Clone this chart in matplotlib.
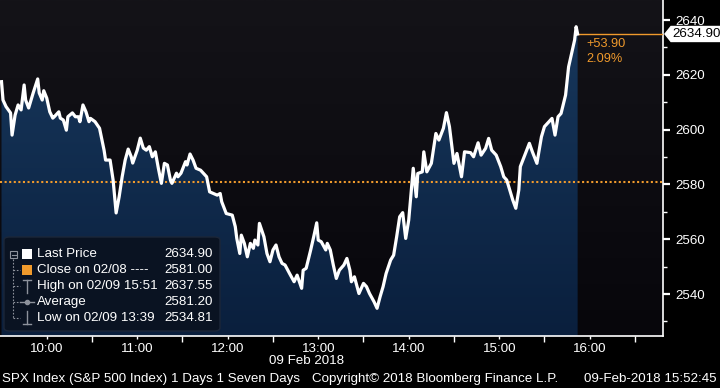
import numpy as np
import matplotlib
matplotlib.use('Agg')
import matplotlib.pyplot as plt
from matplotlib.patches import Polygon, FancyBboxPatch, Rectangle
from matplotlib.lines import Line2D
from matplotlib.colors import LinearSegmentedColormap

# SPX intraday, minutes after 09:30 on 09 Feb 2018
minutes = [0, 1, 3, 6, 7, 9, 11, 13, 15, 16, 18, 21, 24, 25, 27, 28, 30, 32, 34, 35,
           38, 39, 41, 43, 44, 47, 49, 51, 52, 54, 56, 58, 59, 62, 65, 68, 69, 72, 74, 76,
           78, 80, 82, 84, 86, 87, 90, 92, 94, 96, 98, 100, 102, 104, 106, 108, 110, 112, 113, 116,
           117, 119, 122, 123, 125, 127, 129,
           132, 136, 138, 143, 145, 146, 149, 153, 155, 156, 158, 159, 161, 163, 165, 167, 168, 170,
           171, 174, 176, 178, 180, 182, 184, 186, 188, 191, 194, 196, 199, 200, 202, 205, 207, 209,
           210, 212, 215, 216, 218, 220, 222, 224, 227, 229, 231, 232, 234, 237, 240, 242, 244, 247,
           249, 251, 253, 255, 258, 260,
           262, 264, 266, 268, 270, 273, 275, 276, 279, 280, 282, 285, 288, 290, 293, 295, 297, 300,
           302, 305, 307, 311, 313, 316, 318, 321, 323, 325, 328, 331, 333, 335, 337, 339, 341, 343,
           344, 347, 350, 352, 355, 358, 360, 363, 365, 367, 369, 371, 374, 376, 379, 380, 381, 382]
prices = [2617.5, 2610.8, 2608.4, 2606.1, 2598.0, 2605.3, 2609.0, 2607.2, 2616.3, 2610.8,
          2607.9, 2613.4, 2618.5, 2613.4, 2610.8, 2614.2, 2611.5, 2606.5, 2604.2, 2604.7,
          2606.5, 2604.2, 2603.5, 2599.8, 2604.7, 2606.1, 2604.7, 2604.7, 2602.9, 2609.0,
          2606.5, 2602.9, 2604.1, 2602.9, 2600.5, 2592.5, 2588.9, 2588.9, 2581.6, 2569.6,
          2575.5, 2582.8, 2588.9, 2592.9, 2590.1, 2587.8, 2592.5, 2596.9, 2593.3, 2592.5,
          2593.8, 2590.1, 2591.9, 2585.9, 2580.4, 2587.7, 2587.1, 2581.6, 2580.4, 2584.1,
          2582.8, 2584.1, 2588.3, 2587.1, 2591.1, 2588.9, 2585.9,
          2585.2, 2582.8, 2577.3, 2576.1, 2576.7, 2573.7, 2569.4, 2568.8, 2564.6, 2560.3,
          2554.8, 2561.5, 2558.5, 2553.6, 2558.5, 2556.7, 2559.7, 2557.9, 2565.8, 2560.9,
          2554.8, 2551.8, 2556.1, 2557.9, 2553.6, 2551.2, 2550.6, 2547.5, 2544.5, 2546.9,
          2542.1, 2548.7, 2549.4, 2556.1, 2560.9, 2566.0, 2559.7, 2559.1, 2556.1, 2558.5,
          2556.1, 2550.6, 2545.7, 2548.7, 2550.6, 2553.0, 2548.7, 2544.5, 2546.3, 2540.2,
          2543.9, 2542.7, 2540.2, 2537.2, 2534.81, 2539.0, 2542.7, 2547.5, 2552.4, 2554.2,
          2560.9, 2568.2, 2569.7, 2560.3, 2567.0, 2585.9, 2575.5, 2584.0, 2584.6, 2591.9,
          2584.6, 2587.7, 2598.6, 2596.2, 2600.5, 2606.2, 2601.1, 2587.7, 2591.3, 2582.8,
          2591.9, 2591.6, 2590.1, 2595.2, 2590.7, 2593.2, 2596.8, 2592.5, 2590.7, 2586.5,
          2582.8, 2581.6, 2578.0, 2574.3, 2571.3, 2578.0,
          2586.5, 2590.7, 2595.0, 2591.9, 2587.7, 2597.4, 2601.1, 2602.9, 2604.1, 2598.0,
          2604.7, 2605.9, 2612.6, 2622.9, 2630.3, 2632.7, 2637.55, 2634.90]

prev_close = 2581.00
last_price = 2634.90
change_txt = ['+53.90', '2.09%']

hour_ticks = [30, 90, 150, 210, 270, 330, 390]
hour_labels = ['10:00', '11:00', '12:00', '13:00', '14:00', '15:00', '16:00']
half_ticks = [60, 120, 180, 240, 300, 360, 420]
y_major = [2540, 2560, 2580, 2600, 2620, 2640]
y_minor = [2530, 2550, 2570, 2590, 2610, 2630]

leg_names = ['Last Price', 'Close on 02/08 ----', 'High on 02/09 15:51', 'Average', 'Low on 02/09 13:39']
leg_values = ['2634.90', '2581.00', '2637.55', '2581.20', '2534.81']

ORANGE = '#f09a2c'
FONT = 'Liberation Sans'
FS = 9.2
W, H = 720, 388

def fx(px):
    return px / W

def fy(py):
    return 1 - py / H

fig = plt.figure(figsize=(7.2, 3.88), dpi=100, facecolor='black')
ax = fig.add_axes([0, fy(336), fx(663), 336 / H])
ax.set_facecolor('#0e0d12')

xmin, xmax = -1.0, 438.6
ymin, ymax = 2524.7, 2647.3

# background gradient
bg_cmap = LinearSegmentedColormap.from_list('bg', ['#07060b', '#141318'])
grad = np.linspace(0, 1, 256).reshape(-1, 1)
ax.imshow(grad, cmap=bg_cmap, aspect='auto', extent=[xmin, xmax, ymin, ymax],
          origin='lower', zorder=0)

# area fill with gradient
fill_cmap = LinearSegmentedColormap.from_list('fill', ['#0a1f3d', '#18395e'])
im = ax.imshow(grad, cmap=fill_cmap, aspect='auto', extent=[xmin, xmax, ymin, ymax],
               origin='lower', zorder=1)
poly = ax.fill_between(minutes, prices, ymin, facecolor='none', edgecolor='none')
im.set_clip_path(poly.get_paths()[0], transform=ax.transData)

ax.axhline(prev_close, color=ORANGE, lw=1.5, ls=(0, (1, 1.2)), zorder=3)
ax.plot(minutes, prices, color='white', lw=2.3, zorder=4, solid_joinstyle='round')
ax.plot([minutes[-1], xmax], [last_price, last_price], color=ORANGE, lw=1.0, zorder=3)

for i, t in enumerate(change_txt):
    ax.annotate(t, xy=(minutes[-1], last_price), xytext=(9, -10 - 15 * i),
                textcoords='offset pixels', color=ORANGE, fontsize=FS, family=FONT,
                va='center', ha='left', zorder=5)

ax.set_xlim(xmin, xmax)
ax.set_ylim(ymin, ymax)

for s in ['left', 'top']:
    ax.spines[s].set_visible(False)
for s in ['bottom', 'right']:
    ax.spines[s].set_color('white')
    ax.spines[s].set_linewidth(1.2)

ax.yaxis.tick_right()
ax.set_yticks(y_major)
ax.set_yticks(y_minor, minor=True)
ax.set_xticks(hour_ticks)
ax.set_xticklabels(hour_labels)
ax.set_xticks(half_ticks, minor=True)
ax.tick_params(axis='y', which='major', colors='white', length=5, width=1.6, pad=4,
               labelsize=FS + 0.4)
ax.tick_params(axis='y', which='minor', colors='white', length=3, width=1.0)
ax.tick_params(axis='x', which='major', colors='white', length=2, width=1.0, pad=3,
               labelsize=FS + 0.4)
ax.tick_params(axis='x', which='minor', colors='white', length=4, width=1.0)
for lab in ax.get_xticklabels() + ax.get_yticklabels():
    lab.set_family(FONT)

# last price tag on the right axis
yl = fig.transFigure.inverted().transform(ax.transData.transform((0, last_price)))[1]
hh = 7.5 / H
tag = Polygon([(fx(665), yl), (fx(671), yl + hh), (fx(720), yl + hh), (fx(720), yl - hh),
               (fx(671), yl - hh)], closed=True, transform=fig.transFigure,
              facecolor='white', edgecolor='white', zorder=10)
fig.patches.append(tag)
fig.text(fx(672), yl, '%.2f' % last_price, color='black', fontsize=FS + 0.4, family=FONT,
         va='center', ha='left', zorder=11)

# legend box
box = FancyBboxPatch((fx(4), fy(331)), fx(216), 94 / H,
                     boxstyle='round,pad=0,rounding_size=0.008', transform=fig.transFigure,
                     facecolor='#0a1322', edgecolor='#1c2638', lw=1.0, zorder=10)
fig.patches.append(box)
row_y = [254, 270, 286, 302, 318]
grey = '#8d929c'
for i, (nm, val) in enumerate(zip(leg_names, leg_values)):
    yy = fy(row_y[i])
    fig.text(fx(37), yy, nm, color='white', fontsize=FS + 0.4, family=FONT,
             va='center', ha='left', zorder=12)
    fig.text(fx(213), yy, val, color='white', fontsize=FS + 0.4, family=FONT,
             va='center', ha='right', zorder=12)
    if i > 0:
        fig.add_artist(Line2D([fx(13), fx(20)], [yy, yy], color=grey, lw=0.8,
                              ls=(0, (1.5, 1.5)), transform=fig.transFigure, zorder=12))
# tree
fig.add_artist(Line2D([fx(13), fx(13)], [fy(259), fy(318)], color=grey, lw=0.8,
                      ls=(0, (1.5, 1.5)), transform=fig.transFigure, zorder=12))
fig.patches.append(Rectangle((fx(10), fy(258)), fx(7), 7 / H, transform=fig.transFigure,
                             facecolor='none', edgecolor=grey, lw=0.8, zorder=12))
fig.add_artist(Line2D([fx(11.5), fx(15.5)], [fy(254.5), fy(254.5)], color=grey, lw=0.8,
                      transform=fig.transFigure, zorder=12))
# icons
fig.patches.append(Rectangle((fx(22), fy(259)), fx(10), 10 / H, transform=fig.transFigure,
                             facecolor='white', edgecolor='none', zorder=12))
fig.patches.append(Rectangle((fx(22), fy(275)), fx(10), 10 / H, transform=fig.transFigure,
                             facecolor=ORANGE, edgecolor='none', zorder=12))
fig.add_artist(Line2D([fx(27), fx(27)], [fy(280), fy(293)], color=grey, lw=1.0,
                      transform=fig.transFigure, zorder=12))
fig.add_artist(Line2D([fx(23), fx(31)], [fy(280), fy(280)], color=grey, lw=1.0,
                      transform=fig.transFigure, zorder=12))
fig.add_artist(Line2D([fx(20), fx(34)], [fy(302), fy(302)], color=grey, lw=1.0,
                      transform=fig.transFigure, zorder=12))
fig.add_artist(Line2D([fx(27)], [fy(302)], color=grey, marker='o', ms=3,
                      transform=fig.transFigure, zorder=12))
fig.add_artist(Line2D([fx(27), fx(27)], [fy(311), fy(324)], color=grey, lw=1.0,
                      transform=fig.transFigure, zorder=12))
fig.add_artist(Line2D([fx(23), fx(31)], [fy(324), fy(324)], color=grey, lw=1.0,
                      transform=fig.transFigure, zorder=12))

# date and footer
fig.text(fx(307), fy(361), '09 Feb 2018', color='white', fontsize=FS + 0.4, family=FONT,
         ha='center', va='center')
fig.text(fx(2), fy(379), 'SPX Index (S&P 500 Index) 1 Days 1 Seven Days', color='white',
         fontsize=FS + 0.4, family=FONT, ha='left', va='center')
fig.text(fx(435), fy(379), 'Copyright\u00a9 2018 Bloomberg Finance L.P.', color='white',
         fontsize=FS + 0.4, family=FONT, ha='center', va='center')
fig.text(fx(717), fy(379), '09-Feb-2018 15:52:45', color='white', fontsize=FS + 0.4,
         family=FONT, ha='right', va='center')

fig.savefig('out.png', dpi=100, facecolor='black')
plt.close(fig)
